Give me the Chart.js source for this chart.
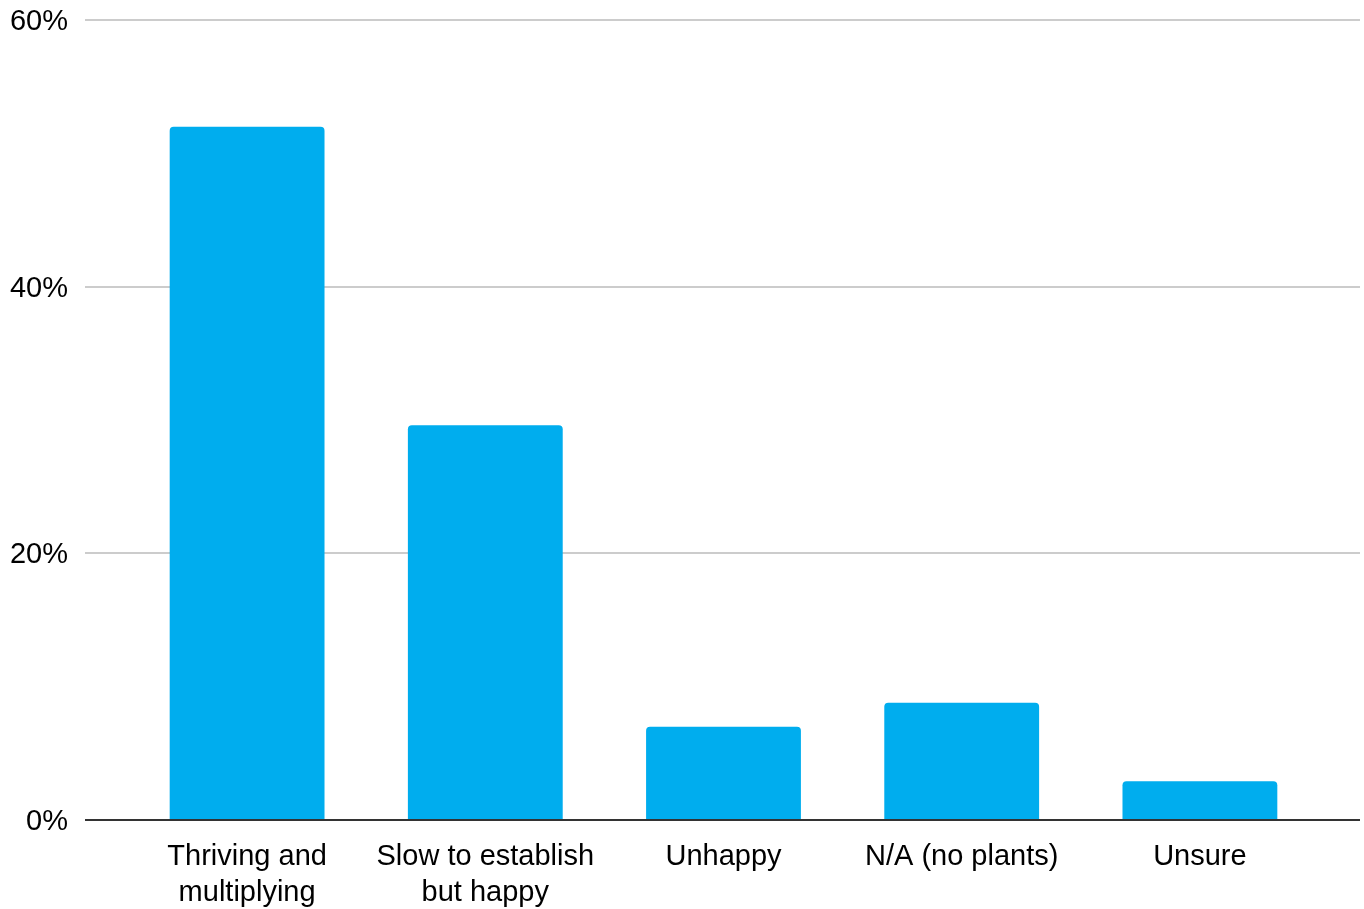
<!DOCTYPE html>
<html>
<head>
<meta charset="utf-8">
<script src="https://cdn.jsdelivr.net/npm/chart.js@4/dist/chart.umd.min.js"></script>
<style>
  html, body { margin: 0; padding: 0; background: #fff; }
  #wrap { width: 1364px; height: 909px; }
</style>
</head>
<body>
<div id="wrap"><canvas id="chart"></canvas></div>
<script>
// dane
const categories = [
    ["Thriving and", "multiplying"],
    ["Slow to establish", "but happy"],
    "Unhappy",
    "N/A (no plants)",
    "Unsure"
]
const percents = [52, 29.6, 7, 8.8, 2.9]
const yTicks = [0, 20, 40, 60]

const gridColor = (ctx) => ctx.tick && ctx.tick.value === 0 ? "#333333" : "#cccccc"

Chart.defaults.font.family = "'Liberation Sans', Arial, sans-serif"
Chart.defaults.color = "#000"

new Chart(document.querySelector("#chart"), {
    type: "bar",
    data: {
        labels: categories,
        datasets: [{
            data: percents,
            backgroundColor: "#00ADEE",
            borderRadius: { topLeft: 4, topRight: 4 },
            borderSkipped: "bottom",
            barPercentage: 0.65,
            categoryPercentage: 1
        }]
    },
    options: {
        responsive: true,
        maintainAspectRatio: false,
        animation: false,
        layout: { padding: { left: 10, right: 4, top: 20, bottom: 0 } },
        plugins: { legend: { display: false }, tooltip: { enabled: false } },
        scales: {
            x: {
                grid: { display: false, drawTicks: false },
                border: { display: false },
                ticks: {
                    font: { size: 29, lineHeight: 1.25 },
                    padding: 19,
                    maxRotation: 0,
                    autoSkip: false
                },
                afterFit: (scale) => { scale.height = 89 }
            },
            y: {
                min: yTicks[0],
                max: yTicks[yTicks.length - 1],
                border: { display: false },
                grid: { color: gridColor, tickColor: gridColor, lineWidth: 2, tickLength: 43 },
                ticks: {
                    stepSize: 20,
                    padding: 17,
                    labelOffset: 2,
                    font: { size: 29 },
                    callback: (v) => v + "%"
                },
                afterFit: (scale) => {
                    scale.width = 118
                    scale.paddingTop = 0
                    scale.paddingBottom = 0
                }
            },
            // tylko po to, żeby linie siatki wychodziły za prawy brzeg wykresu
            y2: {
                position: "right",
                min: yTicks[0],
                max: yTicks[yTicks.length - 1],
                border: { display: false },
                grid: { drawOnChartArea: false, color: gridColor, tickColor: gridColor, lineWidth: 2, tickLength: 41 },
                ticks: { stepSize: 20, display: false },
                afterFit: (scale) => {
                    scale.width = 41
                    scale.paddingTop = 0
                    scale.paddingBottom = 0
                }
            }
        }
    }
})
</script>
</body>
</html>
